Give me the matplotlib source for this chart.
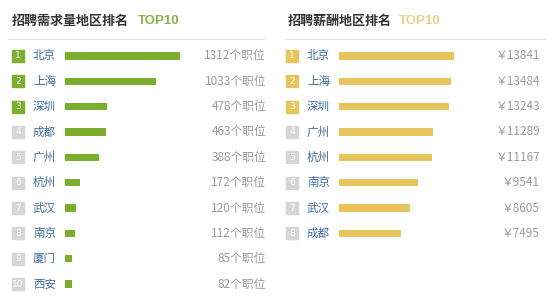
import matplotlib.pyplot as plt
import matplotlib.transforms as mtransforms
from matplotlib.lines import Line2D

plt.rcParams['font.family'] = ['Noto Sans CJK SC', 'DejaVu Sans']

# 招聘需求量
demand_cities = ['北京', '上海', '深圳', '成都', '广州', '杭州', '武汉', '南京', '厦门', '西安']
demand_values = [1312, 1033, 478, 463, 388, 172, 120, 112, 85, 82]

# 招聘薪酬
salary_cities = ['北京', '上海', '深圳', '广州', '杭州', '南京', '武汉', '成都']
salary_values = [13841, 13484, 13243, 11289, 11167, 9541, 8605, 7495]

W, H = 554, 308
fig = plt.figure(figsize=(W / 100, H / 100), dpi=100)
fig.patch.set_facecolor('white')

city_color = '#3d6d9e'
value_color = '#9a9a9a'
gray_badge = '#d6d6d6'


def panel(left_px, right_px, scale_max, cities, values, bar_color, badge_color,
          title, title_x, top_color, top_x, line_x0, line_x1):
    top_px, bottom_px = 43.3, 296.7
    ax = fig.add_axes([left_px / W, 1 - bottom_px / H,
                       (right_px - left_px) / W, (bottom_px - top_px) / H])
    ys = list(range(len(cities)))
    ax.barh(ys, values, height=0.28, color=bar_color)
    ax.set_xlim(0, scale_max)
    ax.set_ylim(9.5, -0.5)
    ax.axis('off')

    # badges
    shift = mtransforms.ScaledTranslation(-47 / 100, 0, fig.dpi_scale_trans)
    colors = [badge_color if i < 3 else gray_badge for i in ys]
    ax.scatter([0] * len(ys), ys, marker='s', s=76, c=colors,
               transform=ax.transData + shift, clip_on=False)
    for i in ys:
        ax.annotate(str(i + 1), xy=(0, i), xytext=(-47, 0), textcoords='offset pixels',
                    ha='center', va='center', fontsize=6.5, color='white',
                    family='DejaVu Sans', annotation_clip=False)
        ax.annotate(cities[i], xy=(0, i), xytext=(-32, 0), textcoords='offset pixels',
                    ha='left', va='center', fontsize=8.3, color=city_color,
                    annotation_clip=False)

    fig.text(title_x / W, 1 - 21 / H, title, fontsize=9.4, fontweight='bold',
             color='#333333', ha='left', va='center')
    fig.text(top_x / W, 1 - 21 / H, 'TOP10', fontsize=9.5, fontweight='bold',
             color=top_color, ha='left', va='center', family='Liberation Sans')
    fig.add_artist(Line2D([line_x0 / W, line_x1 / W], [1 - 39 / H, 1 - 39 / H],
                          color='#e6e6e6', lw=0.8))
    return ax


ax1 = panel(65, 266, 1312 * 201 / 115, demand_cities, demand_values,
            '#7cae2e', '#7cae2e', '招聘需求量地区排名', 12, '#86b44a', 138, 8, 264)
for i, v in enumerate(demand_values):
    ax1.annotate(f'{v}个职位', xy=(1, i), xycoords=('axes fraction', 'data'),
                 ha='right', va='center', fontsize=8.5, color=value_color)

ax2 = panel(339, 540, 13841 * 201 / 115, salary_cities, salary_values,
            '#e8c45c', '#e8c45c', '招聘薪酬地区排名', 288, '#e8d28a', 399, 285, 545)
for i, v in enumerate(salary_values):
    ax2.annotate(f'￥{v}', xy=(1, i), xycoords=('axes fraction', 'data'),
                 ha='right', va='center', fontsize=8.5, color=value_color)

fig.savefig('out.png', dpi=100)
